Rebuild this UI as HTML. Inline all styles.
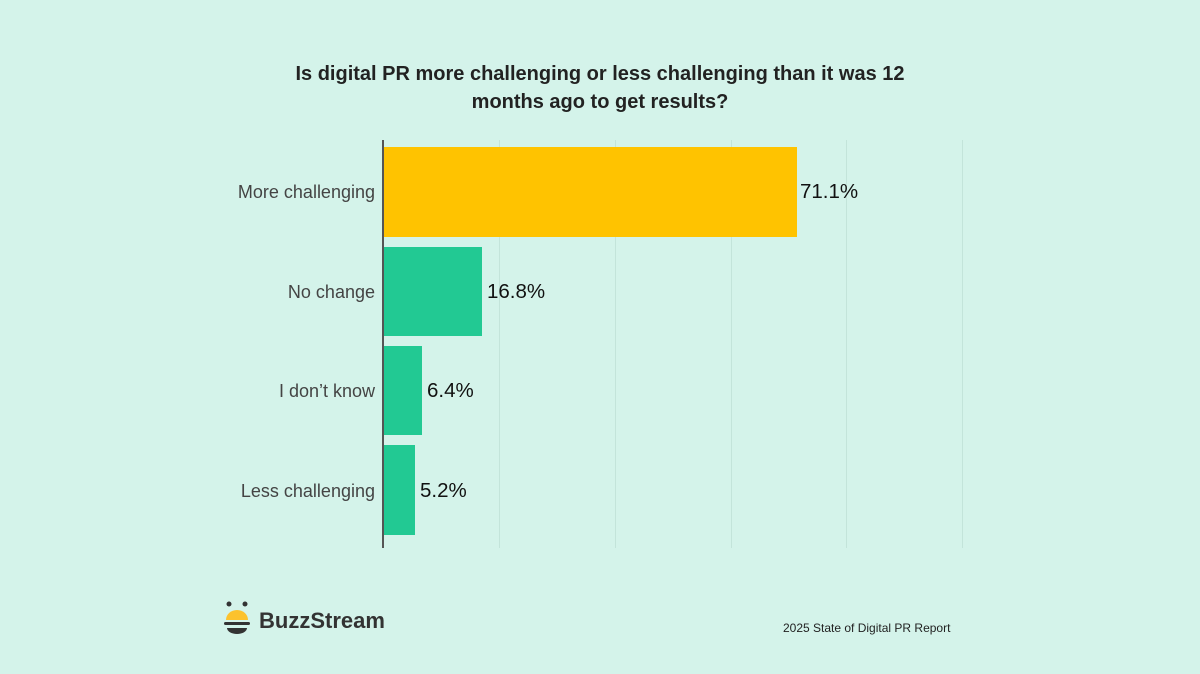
<!DOCTYPE html>
<html><head><meta charset="utf-8"><style>
body{margin:0;width:1200px;height:674px;background:#d4f3ea;font-family:"Liberation Sans",sans-serif;position:relative;overflow:hidden}
.t{position:absolute;left:0;width:1200px;top:60px;text-align:center;font-weight:bold;font-size:20px;color:#222;line-height:28px}
.g{position:absolute;top:140px;height:408px;width:1px;background:#c3e4da}
.ax{position:absolute;left:382px;top:140px;height:408px;width:2px;background:#555}
.b{position:absolute;left:384px}
.l{position:absolute;right:825px;font-size:18px;color:#444;text-align:right}
.v{position:absolute;font-size:20.5px;color:#111}
</style></head><body>
<div class="t">Is digital PR more challenging or less challenging than it was 12<br>months ago to get results?</div>
<div class="g" style="left:499px"></div><div class="g" style="left:615px"></div><div class="g" style="left:731px"></div><div class="g" style="left:846px"></div><div class="g" style="left:962px"></div>
<div class="b" style="top:147px;height:90px;width:413px;background:#ffc300"></div>
<div class="b" style="top:247px;height:89px;width:98px;background:#22c993"></div>
<div class="b" style="top:346px;height:89px;width:38px;background:#22c993"></div>
<div class="b" style="top:445px;height:90px;width:31px;background:#22c993"></div>
<div class="ax"></div>
<div class="l" style="top:182px">More challenging</div>
<div class="l" style="top:282px">No change</div>
<div class="l" style="top:381px">I don’t know</div>
<div class="l" style="top:481px">Less challenging</div>
<div class="v" style="left:800px;top:180px">71.1%</div>
<div class="v" style="left:487px;top:280px">16.8%</div>
<div class="v" style="left:427px;top:379px">6.4%</div>
<div class="v" style="left:420px;top:479px">5.2%</div>
<svg style="position:absolute;left:222px;top:600px" width="30" height="40" viewBox="0 0 30 40">
<circle cx="7" cy="4" r="2.5" fill="#333"/><circle cx="23" cy="4" r="2.5" fill="#333"/>
<path d="M4 20 A11 10 0 0 1 26 20 Z" fill="#fcc22d"/>
<rect x="2" y="22" width="26" height="3" rx="1.5" fill="#333"/>
<path d="M5 28 H25 A10 6 0 0 1 5 28Z" fill="#333"/>
</svg>
<div style="position:absolute;left:259px;top:608px;font-size:22px;font-weight:bold;color:#333">BuzzStream</div>
<div style="position:absolute;left:783px;top:621px;font-size:12px;color:#222">2025 State of Digital PR Report</div>
</body></html>
